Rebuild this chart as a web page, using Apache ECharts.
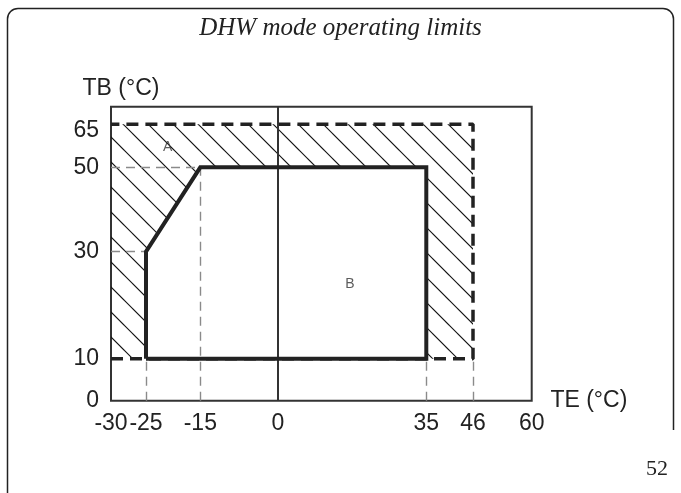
<!DOCTYPE html>
<html><head><meta charset="utf-8">
<script src="https://cdn.jsdelivr.net/npm/echarts@6/dist/echarts.min.js"></script>
<style>html,body{margin:0;padding:0;background:#fff}#c{width:681px;height:493px}</style>
</head><body><div id="c"></div>
<script>
// ---- content / data ----
const titleText = 'DHW mode operating limits';
const pageNumber = '52';
const xName = 'TE (°C)';
const yName = 'TB (°C)';
const xTicks = [-30, -25, -15, 0, 35, 46, 60];
const yTicks = [0, 10, 30, 50, 65];
const zoneAOuter = [[-30, 10], [46, 10], [46, 65], [-30, 65]];
const zoneB = [[-25, 10], [-25, 30], [-15, 50], [35, 50], [35, 10], [-25, 10]];
const limitDashed = [[-30, 10], [46, 10], [46, 65], [-30, 65]];
const guideLines = [
  [[-30, 30], [-25, 30]],
  [[-30, 50], [-15, 50]],
  [[-25, 0], [-25, 10]],
  [[-15, 0], [-15, 50]],
  [[35, 0], [35, 10]],
  [[46, 0], [46, 10]]
];
const zeroLineX = 0;
const regionNames = ['A', 'B'];
const regionPoints = [[-21, 57], [17, 24]];

// ---- layout: the drawing uses a non-uniform (piecewise) scale ----
const xTickPos = [0, 35, 89.3, 167, 315.3, 362, 420.7];
const yTickPos = [0, 42, 149, 233.4, 276.4];
const yAxisTop = 294;

function warp(v, ticks, pos) {
  for (let i = 0; i < ticks.length - 1; i++) {
    if (v <= ticks[i + 1] || i === ticks.length - 2) {
      const t = (v - ticks[i]) / (ticks[i + 1] - ticks[i]);
      return pos[i] + t * (pos[i + 1] - pos[i]);
    }
  }
}
const wx = v => warp(v, xTicks, xTickPos);
const wy = v => warp(v, yTicks, yTickPos);
const wp = p => [wx(p[0]), wy(p[1])];
function tickIndex(v, pos) {
  for (let i = 0; i < pos.length; i++) if (Math.abs(pos[i] - v) < 0.05) return i;
  return -1;
}

// hatch pattern
const S = 25;
const pc = document.createElement('canvas');
pc.width = S; pc.height = S;
const g = pc.getContext('2d');
g.strokeStyle = '#111';
g.lineWidth = 1.2;
[-S - 1, -1, S - 1].forEach(c => {
  g.beginPath(); g.moveTo(c - 5, -5); g.lineTo(c + S + 5, S + 5); g.stroke();
});
const hatch = { image: pc, repeat: 'repeat' };

const FONT = 'Liberation Sans, Arial, sans-serif';
const frameStyle = { fill: null, stroke: '#222', lineWidth: 1.5 };
const chart = echarts.init(document.getElementById('c'), null, { renderer: 'canvas' });
chart.setOption({
  animation: false,
  backgroundColor: '#fff',
  title: {
    text: titleText, left: 'center', top: 14, padding: 0,
    textStyle: { fontFamily: 'Liberation Serif, serif', fontStyle: 'italic', fontWeight: 'normal', fontSize: 25, lineHeight: 28, color: '#222' }
  },
  graphic: [
    { type: 'line', shape: { x1: 7.5, y1: 493, x2: 7.5, y2: 19 }, style: frameStyle },
    { type: 'arc', shape: { cx: 18, cy: 19, r: 10.5, startAngle: Math.PI, endAngle: Math.PI * 1.5, clockwise: true }, style: frameStyle },
    { type: 'line', shape: { x1: 18, y1: 8.5, x2: 663, y2: 8.5 }, style: frameStyle },
    { type: 'arc', shape: { cx: 663, cy: 19, r: 10.5, startAngle: Math.PI * 1.5, endAngle: Math.PI * 2, clockwise: true }, style: frameStyle },
    { type: 'line', shape: { x1: 673.5, y1: 19, x2: 673.5, y2: 430 }, style: frameStyle },
    { type: 'text', x: 668, y: 469, style: { text: pageNumber, fontFamily: 'Liberation Serif, serif', fontSize: 22, fill: '#222', align: 'right', verticalAlign: 'middle' } }
  ],
  grid: { left: 111, top: 106.7, width: 420.7, height: yAxisTop, show: true, borderColor: '#333', borderWidth: 2, backgroundColor: 'transparent' },
  xAxis: {
    type: 'value', min: 0, max: xTickPos[xTickPos.length - 1],
    name: xName, nameLocation: 'end', nameGap: 3,
    nameTextStyle: { fontFamily: FONT, fontSize: 23, color: '#222' },
    axisLine: { show: false }, axisTick: { show: false }, splitLine: { show: false },
    axisLabel: {
      customValues: xTicks.map(wx), margin: 11,
      formatter: v => { const i = tickIndex(v, xTickPos); return i < 0 ? '' : String(xTicks[i]); },
      fontFamily: FONT, fontSize: 23, lineHeight: 23, color: '#222'
    }
  },
  yAxis: {
    type: 'value', min: 0, max: yAxisTop,
    name: yName, nameLocation: 'end', nameGap: 7,
    nameTextStyle: { fontFamily: FONT, fontSize: 23, lineHeight: 23, color: '#222', padding: [0, 0, 0, 20] },
    axisLine: { show: false }, axisTick: { show: false }, splitLine: { show: false },
    axisLabel: {
      customValues: yTicks.map(wy), margin: 12,
      formatter: v => {
        const i = tickIndex(v, yTickPos);
        if (i < 0) return '';
        return i === yTicks.length - 1 ? '{low|' + yTicks[i] + '}' : String(yTicks[i]);
      },
      rich: { low: { fontFamily: FONT, fontSize: 23, lineHeight: 23, color: '#222', padding: [13, 0, 0, 0] } },
      fontFamily: FONT, fontSize: 23, lineHeight: 23, color: '#222'
    }
  },
  series: [
    {
      type: 'custom', coordinateSystem: 'cartesian2d', z: 1, silent: true,
      data: [[0, 0]],
      renderItem: (params, api) => ({
        type: 'group',
        children: [
          { type: 'polygon', shape: { points: zoneAOuter.map(p => api.coord(wp(p))) }, style: { fill: hatch, stroke: null } },
          { type: 'polygon', shape: { points: zoneB.map(p => api.coord(wp(p))) }, style: { fill: '#fff', stroke: null } }
        ]
      })
    },
    {
      type: 'lines', coordinateSystem: 'cartesian2d', z: 3, silent: true,
      lineStyle: { color: '#8a8a8a', width: 1.4, type: [9, 6], opacity: 1 },
      data: guideLines.map(seg => ({ coords: seg.map(wp) })),
      markLine: {
        silent: true, symbol: ['none', 'none'], label: { show: false },
        lineStyle: { color: '#333', width: 2, type: 'solid' },
        data: [{ xAxis: wx(zeroLineX) }]
      }
    },
    {
      type: 'line', z: 4, silent: true, symbol: 'none',
      lineStyle: { color: '#222', width: 3.5, type: [12, 7] },
      data: limitDashed.map(wp)
    },
    {
      type: 'line', z: 5, silent: true, symbol: 'none',
      lineStyle: { color: '#222', width: 4, join: 'miter' },
      data: zoneB.map(wp)
    },
    {
      type: 'scatter', z: 6, silent: true, symbolSize: 0,
      data: regionPoints.map((p, i) => ({ name: regionNames[i], value: wp(p) })),
      label: { show: true, position: 'inside', formatter: '{b}', fontFamily: FONT, fontSize: 14, color: '#333' }
    }
  ]
});
</script></body></html>
